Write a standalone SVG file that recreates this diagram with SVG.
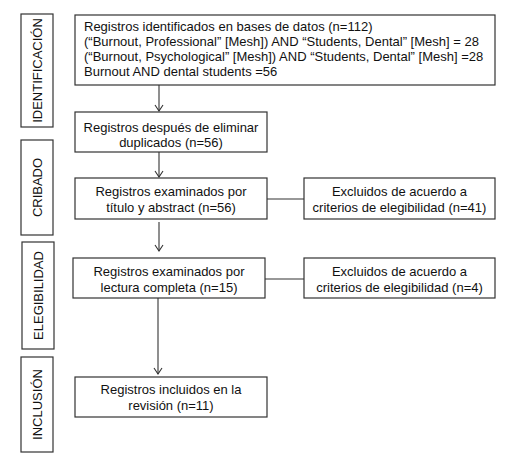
<svg xmlns="http://www.w3.org/2000/svg" width="510" height="476" viewBox="0 0 510 476">
<style>
.box{fill:#fff;stroke:#333;stroke-width:1.2}
.t{font-family:"Liberation Sans",Arial,sans-serif;font-size:13px;fill:#111}
.c{text-anchor:middle}
.ln{stroke:#333;stroke-width:1.1;fill:none}
</style>
<defs>
<marker id="ah" markerWidth="10" markerHeight="10" refX="9" refY="5" orient="auto" markerUnits="userSpaceOnUse" viewBox="0 0 10 10">
<path d="M3,1 L9,5 L3,9" fill="none" stroke="#333" stroke-width="1.1"/>
</marker>
</defs>
<rect width="510" height="476" fill="#fff"/>
<g id="phases">
<g id="ph-identificacion"><rect class="box" x="21" y="14" width="32" height="113"/><text class="t c" transform="translate(41.5,70.5) rotate(-90)">IDENTIFICACIÓN</text></g>
<g id="ph-cribado"><rect class="box" x="21" y="140" width="32" height="95"/><text class="t c" transform="translate(41.5,187.5) rotate(-90)">CRIBADO</text></g>
<g id="ph-elegibilidad"><rect class="box" x="22" y="242" width="32" height="107"/><text class="t c" transform="translate(42.5,295.5) rotate(-90)">ELEGIBILIDAD</text></g>
<g id="ph-inclusion"><rect class="box" x="21" y="357" width="32" height="95"/><text class="t c" transform="translate(41.5,404.5) rotate(-90)">INCLUSIÓN</text></g>
</g>
<g id="connectors">
<line class="ln" x1="159" y1="85" x2="159" y2="111" marker-end="url(#ah)"/>
<line class="ln" x1="159" y1="152" x2="159" y2="177" marker-end="url(#ah)"/>
<line class="ln" x1="159" y1="222" x2="159" y2="251" marker-end="url(#ah)"/>
<line class="ln" x1="158" y1="298" x2="158" y2="374" marker-end="url(#ah)"/>
<line class="ln" x1="267" y1="199" x2="304" y2="199"/>
<line class="ln" x1="265" y1="279" x2="304" y2="279"/>
</g>
<g id="n1"><rect class="box" x="75" y="15" width="420" height="70"/>
<text class="t" x="84" y="30.5">Registros identificados en bases de datos (n=112)</text>
<text class="t" x="84" y="45.5">(“Burnout, Professional” [Mesh]) AND “Students, Dental” [Mesh] = 28</text>
<text class="t" x="84" y="60.5">(“Burnout, Psychological” [Mesh]) AND “Students, Dental” [Mesh] =28</text>
<text class="t" x="84" y="75.5">Burnout AND dental students =56</text></g>
<g id="n2"><rect class="box" x="75" y="112" width="192" height="40"/>
<text class="t c" x="171" y="131.5">Registros después de eliminar</text>
<text class="t c" x="171" y="147">duplicados (n=56)</text></g>
<g id="n3"><rect class="box" x="75" y="178" width="192" height="41"/>
<text class="t c" x="171" y="196">Registros examinados por</text>
<text class="t c" x="171" y="212">título y abstract (n=56)</text></g>
<g id="n4"><rect class="box" x="304" y="178" width="191" height="41"/>
<text class="t c" x="399.5" y="196">Excluidos de acuerdo a</text>
<text class="t c" x="399.5" y="212">criterios de elegibilidad (n=41)</text></g>
<g id="n5"><rect class="box" x="73" y="258" width="192" height="40"/>
<text class="t c" x="169" y="276">Registros examinados por</text>
<text class="t c" x="169" y="292">lectura completa (n=15)</text></g>
<g id="n6"><rect class="box" x="304" y="258" width="191" height="40"/>
<text class="t c" x="399.5" y="276">Excluidos de acuerdo a</text>
<text class="t c" x="399.5" y="292">criterios de elegibilidad (n=4)</text></g>
<g id="n7"><rect class="box" x="75" y="377" width="192" height="40"/>
<text class="t c" x="171" y="394">Registros incluidos en la</text>
<text class="t c" x="171" y="410">revisión (n=11)</text></g>
</svg>
